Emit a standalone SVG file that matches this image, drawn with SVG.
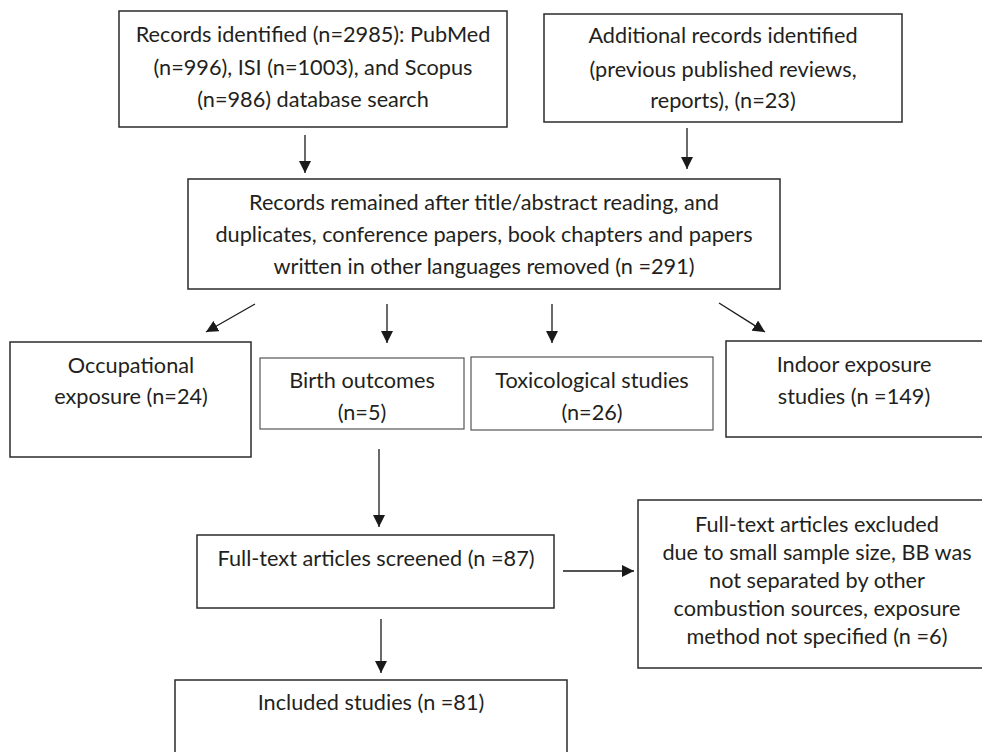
<svg xmlns="http://www.w3.org/2000/svg" width="982" height="752" viewBox="0 0 982 752">
<style>
  .box { fill: #ffffff; stroke: #2b2b2b; stroke-width: 1.5; }
  .box.light { stroke: #555555; stroke-width: 1.2; }
  .t { font-family: Lato, "Open Sans", "Liberation Sans", sans-serif; font-size: 21.7px; fill: #231f20; text-anchor: middle; }
  .conn line { stroke: #1a1a1a; stroke-width: 1.3; }
</style>
<defs>
  <marker id="ahb" viewBox="0 0 10 10" refX="10" refY="5" markerWidth="12" markerHeight="12" markerUnits="userSpaceOnUse" orient="auto">
    <path d="M0,0 L10,5 L0,10 z" fill="#1a1a1a"/>
  </marker>
</defs>
<rect width="982" height="752" fill="#ffffff"/>

<g id="records-identified">
  <rect class="box" x="119" y="11" width="388" height="116"/>
  <text class="t" x="313" y="42">Records identified (n=2985): PubMed</text>
  <text class="t" x="313" y="75">(n=996), ISI (n=1003), and Scopus</text>
  <text class="t" x="313" y="107">(n=986) database search</text>
</g>

<g id="additional-records">
  <rect class="box" x="544" y="14" width="358" height="108"/>
  <text class="t" x="723" y="43">Additional records identified</text>
  <text class="t" x="723" y="77">(previous published reviews,</text>
  <text class="t" x="723" y="108">reports), (n=23)</text>
</g>

<g id="records-remained">
  <rect class="box" x="188" y="179" width="592" height="110"/>
  <text class="t" x="484" y="210">Records remained after title/abstract reading, and</text>
  <text class="t" x="484" y="242">duplicates, conference papers, book chapters and papers</text>
  <text class="t" x="484" y="274">written in other languages removed (n =291)</text>
</g>

<g id="occupational">
  <rect class="box" x="10" y="342" width="241" height="115"/>
  <text class="t" x="131" y="373">Occupational</text>
  <text class="t" x="131" y="404">exposure (n=24)</text>
</g>

<g id="birth-outcomes">
  <rect class="box light" x="260" y="358" width="204" height="71"/>
  <text class="t" x="362" y="388">Birth outcomes</text>
  <text class="t" x="362" y="420">(n=5)</text>
</g>

<g id="toxicological">
  <rect class="box light" x="471" y="357" width="242" height="73"/>
  <text class="t" x="592" y="388">Toxicological studies</text>
  <text class="t" x="592" y="420">(n=26)</text>
</g>

<g id="indoor">
  <rect class="box" x="726" y="341" width="270" height="96"/>
  <text class="t" x="854" y="372">Indoor exposure</text>
  <text class="t" x="854" y="404">studies (n =149)</text>
</g>

<g id="full-text-screened">
  <rect class="box" x="197" y="535" width="357" height="73"/>
  <text class="t" x="376" y="566">Full-text articles screened (n =87)</text>
</g>

<g id="full-text-excluded">
  <rect class="box" x="638" y="500" width="360" height="168"/>
  <text class="t" x="817" y="532">Full-text articles excluded</text>
  <text class="t" x="817" y="560">due to small sample size, BB was</text>
  <text class="t" x="817" y="588">not separated by other</text>
  <text class="t" x="817" y="616">combustion sources, exposure</text>
  <text class="t" x="817" y="644">method not specified (n =6)</text>
</g>

<g id="included">
  <rect class="box" x="175" y="680" width="392" height="90"/>
  <text class="t" x="371" y="710">Included studies (n =81)</text>
</g>

<g id="connectors" class="conn">
  <line x1="305" y1="135" x2="305" y2="173" marker-end="url(#ahb)"/>
  <line x1="687" y1="128" x2="687" y2="169" marker-end="url(#ahb)"/>
  <line x1="255" y1="304" x2="206" y2="332" marker-end="url(#ahb)"/>
  <line x1="387" y1="304" x2="387" y2="343" marker-end="url(#ahb)"/>
  <line x1="552" y1="304" x2="552" y2="343" marker-end="url(#ahb)"/>
  <line x1="719" y1="303" x2="765" y2="332" marker-end="url(#ahb)"/>
  <line x1="379" y1="449" x2="379" y2="527" marker-end="url(#ahb)"/>
  <line x1="563" y1="571" x2="634" y2="571" marker-end="url(#ahb)"/>
  <line x1="381" y1="619" x2="381" y2="673" marker-end="url(#ahb)"/>
</g>
</svg>
